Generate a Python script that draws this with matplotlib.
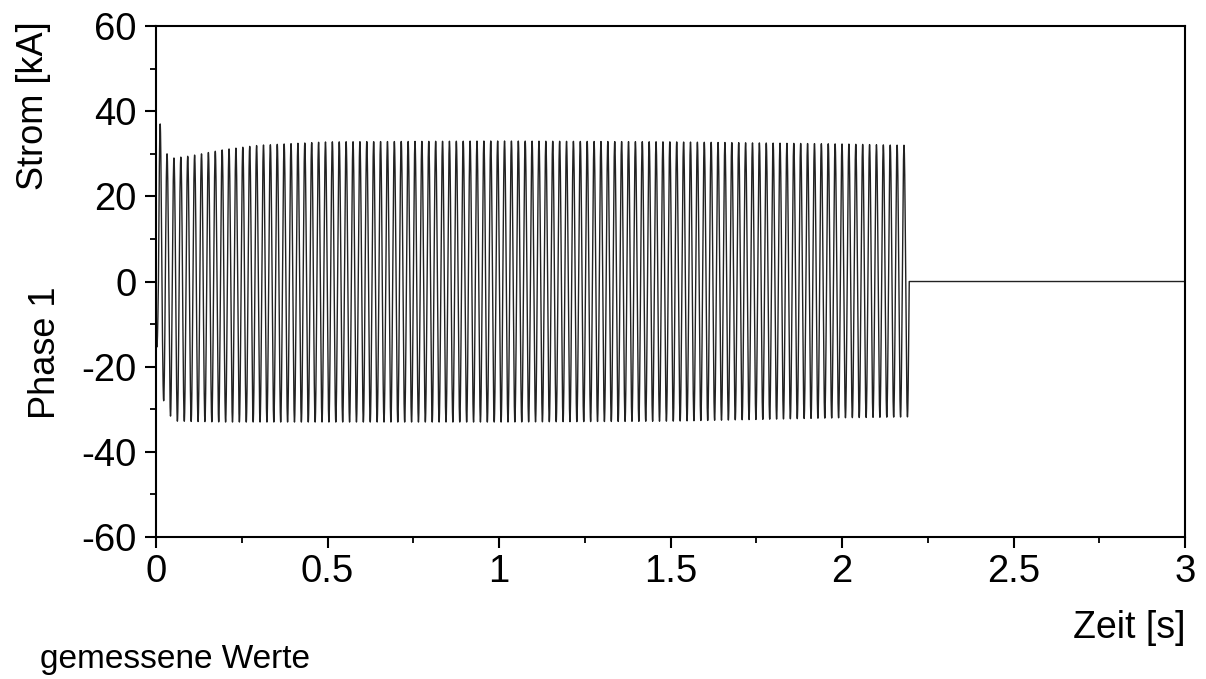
import numpy as np
import matplotlib
matplotlib.use("Agg")
import matplotlib.pyplot as plt
from matplotlib.ticker import MultipleLocator

plt.rcParams['font.family'] = ['Liberation Sans', 'DejaVu Sans']
plt.rcParams['axes.unicode_minus'] = False

# envelope (kA), ~50 Hz current, switched off at ~2.19 s
freq = 49.8
first_peak = 0.012  # s, first positive peak
t_off = 2.1955      # s, current zero after last negative half wave

pos_t = [0, 0.012, 0.032, 0.052, 0.1, 0.2, 0.3, 0.5, 1.0, 1.5, 2.0, 2.17]
pos_pk = [37, 37, 30, 29, 29.5, 31, 32, 32.8, 33, 32.8, 32.3, 32]
neg_t = [0, 0.022, 0.042, 0.062, 0.2, 1.0, 1.5, 2.0, 2.19]
neg_pk = [14, 28, 31.6, 32.8, 33, 33, 32.8, 32, 31.8]

t = np.arange(0, 3.0, 0.0002)
phase = np.pi / 2 - 2 * np.pi * freq * first_peak
s = np.sin(2 * np.pi * freq * t + phase)
up = np.interp(t, pos_t, pos_pk)
lo = np.interp(t, neg_t, neg_pk)
i = np.where(s > 0, up * s, lo * s)
i[t > t_off] = 0.0

fig = plt.figure(figsize=(12.06, 6.79), dpi=100)
ax = fig.add_axes([0.1294, 0.2091, 0.8532, 0.7526])
ax.plot(t, i, color='#222222', lw=1.0)

ax.set_xlim(0, 3)
ax.set_ylim(-60, 60)
ax.xaxis.set_major_locator(MultipleLocator(0.5))
ax.xaxis.set_minor_locator(MultipleLocator(0.25))
ax.yaxis.set_major_locator(MultipleLocator(20))
ax.yaxis.set_minor_locator(MultipleLocator(10))
ax.xaxis.set_major_formatter(plt.FuncFormatter(lambda v, p: f"{v:g}"))
ax.tick_params(which='major', direction='out', length=8, width=1.5, labelsize=27.5, pad=4)
ax.tick_params(which='minor', direction='out', length=4.5, width=1.3)
ax.tick_params(axis='y', pad=6)
for sp in ax.spines.values():
    sp.set_linewidth(1.5)

fig.text(0.028, 0.845, 'Strom [kA]', rotation=90, ha='center', va='center', fontsize=26)
fig.text(0.038, 0.48, 'Phase 1', rotation=90, ha='center', va='center', fontsize=26)
fig.text(0.9826, 0.075, 'Zeit [s]', ha='right', va='center', fontsize=27)
fig.text(0.033, 0.028, 'gemessene Werte', ha='left', va='center', fontsize=24)

fig.savefig('out.png', dpi=100)
